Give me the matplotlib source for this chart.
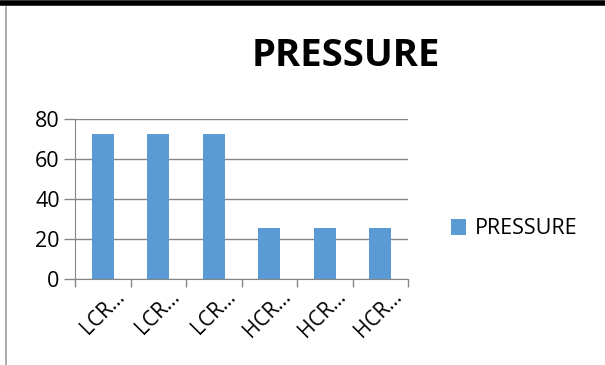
import matplotlib.pyplot as plt
import matplotlib.transforms as mtransforms
from matplotlib.lines import Line2D

categories = ["LCR…", "LCR…", "LCR…", "HCR…", "HCR…", "HCR…"]
pressure = [72.5, 72.5, 72.6, 25.3, 25.3, 25.3]
yticks = [0, 20, 40, 60, 80]

font = ["Open Sans", "DejaVu Sans"]
plt.rcParams['font.family'] = font

fig = plt.figure(figsize=(6.05, 3.65), dpi=100)
ax = fig.add_axes([75 / 605, 1 - 279 / 365, 333 / 605, 160 / 365])

x = list(range(len(categories)))
ax.bar(x, pressure, width=0.4, color='#5B9BD5', label='PRESSURE', zorder=3)

ax.set_xlim(-0.5, len(categories) - 0.5)
ax.set_ylim(0, 80)
ax.set_yticks(yticks)
ax.set_yticklabels([str(v) for v in yticks], fontsize=15.5)
ax.grid(axis='y', color='#868686', linewidth=1, zorder=0)
ax.tick_params(axis='y', length=8, color='#868686', width=1, pad=3)

# category boundary ticks below the axis
ax.set_xticks([i - 0.5 for i in range(len(categories) + 1)])
ax.set_xticklabels([])
ax.tick_params(axis='x', which='major', length=6, color='#868686', width=1, direction='out')
ax.set_xticks(x, minor=True)
ax.set_xticklabels(categories, minor=True, fontsize=15, rotation=45,
                   ha='right', va='top', rotation_mode='anchor')
ax.tick_params(axis='x', which='minor', length=0, pad=5)
offset = mtransforms.ScaledTranslation(11 / 100, 0, fig.dpi_scale_trans)
for lab in ax.get_xticklabels(minor=True):
    lab.set_transform(lab.get_transform() + offset)

for side in ['top', 'right']:
    ax.spines[side].set_visible(False)
ax.spines['left'].set_color('#868686')
ax.spines['bottom'].set_color('#868686')
ax.spines['bottom'].set_zorder(4)

fig.text(346 / 605, 1 - 56 / 365, 'PRESSURE', fontsize=27.5, fontweight='bold',
         ha='center', va='center')

fig.legend(loc='center left', bbox_to_anchor=(432 / 605, 1 - 229 / 365),
           frameon=False, fontsize=15.5, handlelength=0.7, handleheight=0.7,
           handletextpad=0.4)

# chart border lines
fig.add_artist(Line2D([0, 1], [1 - 2.5 / 365, 1 - 2.5 / 365], color='black', linewidth=4))
fig.add_artist(Line2D([6 / 605, 6 / 605], [0, 1 - 7 / 365], color='#A0A0A0', linewidth=1.2))

fig.savefig('out.png', dpi=100)
